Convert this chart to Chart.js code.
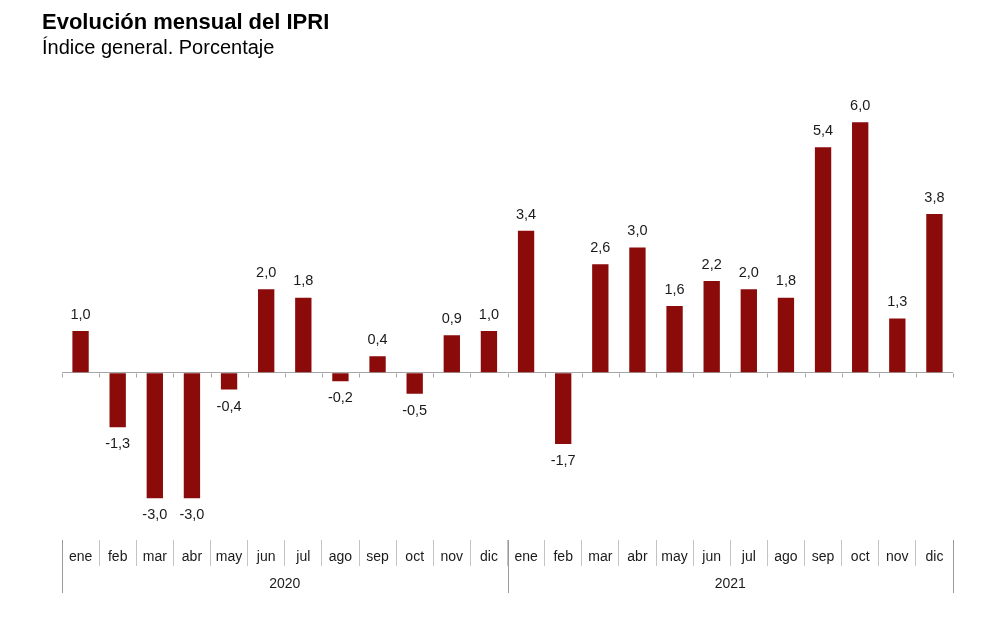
<!DOCTYPE html>
<html lang="es">
<head>
<meta charset="utf-8">
<title>Evolución mensual del IPRI</title>
<script src="https://cdn.jsdelivr.net/npm/chart.js@4.4.1/dist/chart.umd.min.js"></script>
<style>
  html, body { margin: 0; padding: 0; background: #fff; }
  #wrap { width: 1000px; height: 618px; position: relative; }
</style>
</head>
<body>
<div id="wrap"><canvas id="chart"></canvas></div>
<script>
// months shown on the axis, two years
const months = ["ene", "feb", "mar", "abr", "may", "jun", "jul", "ago", "sep", "oct", "nov", "dic"];
const years = ["2020", "2021"];
const labels = months.concat(months);

// monthly change of the IPRI (%)
const values2020 = [1.0, -1.3, -3.0, -3.0, -0.4, 2.0, 1.8, -0.2, 0.4, -0.5, 0.9, 1.0];
const values2021 = [3.4, -1.7, 2.6, 3.0, 1.6, 2.2, 2.0, 1.8, 5.4, 6.0, 1.3, 3.8];
const values = values2020.concat(values2021);

const FONT = "'Liberation Sans', Arial, sans-serif";
const TEXT = "#1a1a1a";

function fmt(v) {
  return v.toFixed(1).replace(".", ",");
}

// value labels above / below each bar
const valueLabels = {
  id: "valueLabels",
  afterDatasetsDraw(chart) {
    const ctx = chart.ctx;
    const meta = chart.getDatasetMeta(0);
    ctx.save();
    ctx.font = "14.5px " + FONT;
    ctx.fillStyle = TEXT;
    ctx.textAlign = "center";
    meta.data.forEach(function (bar, i) {
      const v = values[i];
      if (v >= 0) {
        ctx.textBaseline = "bottom";
        ctx.fillText(fmt(v), bar.x, bar.y - 9);
      } else {
        ctx.textBaseline = "top";
        ctx.fillText(fmt(v), bar.x, bar.y + 10);
      }
    });
    ctx.restore();
  }
};

// small ticks on the zero line, year row and long separators
const axisExtras = {
  id: "axisExtras",
  afterDraw(chart) {
    const ctx = chart.ctx;
    const x = chart.scales.x;
    const y = chart.scales.y;
    const area = chart.chartArea;
    const step = x.getPixelForValue(1) - x.getPixelForValue(0);
    const y0 = Math.round(y.getPixelForValue(0)) + 0.5;

    ctx.save();
    ctx.strokeStyle = "#a6a6a6";
    ctx.lineWidth = 1;
    for (let i = 0; i <= labels.length; i++) {
      const px = Math.round(x.getPixelForValue(0) - step / 2 + i * step) + 0.5;
      ctx.beginPath();
      ctx.moveTo(px, y0);
      ctx.lineTo(px, y0 + 4);
      ctx.stroke();
    }

    ctx.strokeStyle = "#9a9a9a";
    for (let k = 0; k <= years.length; k++) {
      const px = Math.round(x.getPixelForValue(k * 12) - step / 2) + 0.5;
      ctx.beginPath();
      ctx.moveTo(px, area.bottom);
      ctx.lineTo(px, area.bottom + 53);
      ctx.stroke();
    }

    ctx.font = "14px " + FONT;
    ctx.fillStyle = TEXT;
    ctx.textAlign = "center";
    ctx.textBaseline = "middle";
    years.forEach(function (yr, k) {
      const cx = (x.getPixelForValue(k * 12) + x.getPixelForValue(k * 12 + 11)) / 2;
      ctx.fillText(yr, cx, area.bottom + 44);
    });
    ctx.restore();
  }
};

new Chart(document.getElementById("chart"), {
  type: "bar",
  data: {
    labels: labels,
    datasets: [
      {
        label: "IPRI",
        data: values,
        backgroundColor: "#8b0a0a",
        borderWidth: 0,
        categoryPercentage: 1,
        barPercentage: 0.44
      }
    ]
  },
  options: {
    responsive: true,
    maintainAspectRatio: false,
    animation: false,
    layout: {
      padding: { left: 42, right: 47, top: 0, bottom: 0 }
    },
    plugins: {
      legend: { display: false },
      tooltip: { enabled: false },
      title: {
        display: true,
        text: "Evolución mensual del IPRI",
        align: "start",
        color: "#000",
        font: { family: FONT, size: 22, weight: "bold" },
        padding: { top: 10, bottom: 0 }
      },
      subtitle: {
        display: true,
        text: "Índice general. Porcentaje",
        align: "start",
        color: "#000",
        font: { family: FONT, size: 20 },
        padding: { top: 0, bottom: 20 }
      }
    },
    scales: {
      x: {
        position: "bottom",
        border: { display: false },
        grid: {
          offset: true,
          drawOnChartArea: false,
          drawTicks: true,
          tickLength: 26,
          color: "#c4c4c4"
        },
        ticks: {
          autoSkip: false,
          maxRotation: 0,
          padding: -17,
          color: TEXT,
          font: { family: FONT, size: 14 }
        },
        afterFit(scale) {
          scale.height = 78;
        }
      },
      y: {
        min: -4,
        max: 7,
        border: { display: false },
        ticks: { display: false, stepSize: 1 },
        grid: {
          drawTicks: false,
          color: function (c) {
            return c.tick.value === 0 ? "#a6a6a6" : "rgba(0,0,0,0)";
          }
        },
        afterFit(scale) {
          scale.width = 20;
        }
      }
    }
  },
  plugins: [valueLabels, axisExtras]
});
</script>
</body>
</html>
